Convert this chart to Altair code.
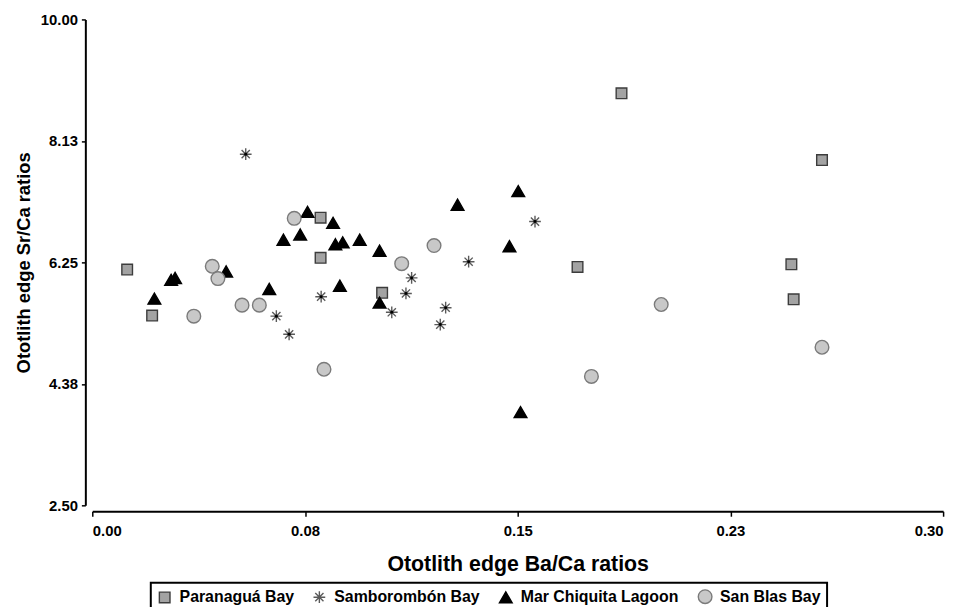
import json
import altair as alt
import pandas as pd

sites = ["Paranaguá Bay", "Samborombón Bay", "Mar Chiquita Lagoon", "San Blas Bay"]

para_ba = [0.0123, 0.0211, 0.0805, 0.0805, 0.1022, 0.1866, 0.1711, 0.2573, 0.2465, 0.2473]
para_sr = [6.14, 5.43, 6.94, 6.32, 5.78, 8.86, 6.18, 7.83, 6.22, 5.68]

samb_ba = [0.0541, 0.0807, 0.0649, 0.0694, 0.1056, 0.1126, 0.1106, 0.1246, 0.1227, 0.1327, 0.1561]
samb_sr = [7.92, 5.72, 5.42, 5.14, 5.48, 6.01, 5.77, 5.55, 5.29, 6.26, 6.88]

marc_ba = [0.0219, 0.0278, 0.0292, 0.0472, 0.0624, 0.0674, 0.0733, 0.0759, 0.0849, 0.0857,
           0.0883, 0.0943, 0.1013, 0.0873, 0.1013, 0.1288, 0.1502, 0.1471, 0.1510]
marc_sr = [5.69, 5.98, 6.01, 6.11, 5.84, 6.60, 6.68, 7.03, 6.86, 6.53,
           6.56, 6.60, 6.43, 5.89, 5.63, 7.14, 7.35, 6.50, 3.94]

sanb_ba = [0.0423, 0.0443, 0.0358, 0.0528, 0.0589, 0.0712, 0.0817, 0.1091, 0.1205, 0.1760, 0.2006, 0.2573]
sanb_sr = [6.19, 6.00, 5.42, 5.59, 5.59, 6.93, 4.60, 6.23, 6.51, 4.49, 5.60, 4.94]

x_tick_values = [0.0, 0.075, 0.15, 0.225, 0.30]
x_tick_labels = ["0.00", "0.08", "0.15", "0.23", "0.30"]
y_tick_values = [2.5, 4.375, 6.25, 8.125, 10.0]
y_tick_labels = ["2.50", "4.38", "6.25", "8.13", "10.00"]

rows = []
for site, xs, ys in zip(sites, [para_ba, samb_ba, marc_ba, sanb_ba], [para_sr, samb_sr, marc_sr, sanb_sr]):
    for xv, yv in zip(xs, ys):
        rows.append({"site": site, "ba": xv, "sr": yv})
df = pd.DataFrame(rows)

STAR = "M-1,0L1,0M0,-1L0,1M-0.7,-0.7L0.7,0.7M-0.7,0.7L0.7,-0.7"
shapes = ["square", STAR, "triangle-up", "circle"]
fills = ["#a3a3a3", "transparent", "#000000", "#c8c8c8"]
strokes = ["#3c3c3c", "#5a5a5a", "#000000", "#7a7a7a"]
sizes = [115, 190, 150, 70]

FONT = "Liberation Sans, Arial"

x_expr = f"{json.dumps(x_tick_labels)}[indexof({json.dumps(x_tick_values)}, datum.value)]"
y_expr = f"{json.dumps(y_tick_labels)}[indexof({json.dumps(y_tick_values)}, datum.value)]"

x_enc = alt.X(
    "ba:Q",
    scale=alt.Scale(domain=[0, 0.30], nice=False, zero=False),
    axis=alt.Axis(
        values=x_tick_values, labelExpr=x_expr, title="Ototlith edge Ba/Ca ratios",
        offset=6, grid=False, domainColor="black", domainWidth=2, tickColor="black",
        tickWidth=1.5, tickSize=5, labelPadding=7, labelFont=FONT, labelFontSize=15,
        labelFontWeight="bold", labelColor="black", titleFont=FONT, titleFontSize=21.5,
        titleFontWeight="bold", titleColor="black", titlePadding=16,
    ),
)
y_enc = alt.Y(
    "sr:Q",
    scale=alt.Scale(domain=[2.5, 10], nice=False, zero=False),
    axis=alt.Axis(
        values=y_tick_values, labelExpr=y_expr, title="Ototlith edge Sr/Ca ratios",
        offset=7, grid=False, domainColor="black", domainWidth=2, tickColor="black",
        tickWidth=1.5, tickSize=4, labelPadding=4, labelFont=FONT, labelFontSize=15,
        labelFontWeight="bold", labelColor="black", titleFont=FONT, titleFontSize=18.5,
        titleFontWeight="bold", titleColor="black", titlePadding=7,
    ),
)

points = alt.Chart(df).mark_point(opacity=1, strokeWidth=1.4).encode(
    x=x_enc,
    y=y_enc,
    shape=alt.Shape("site:N", scale=alt.Scale(domain=sites, range=shapes), title=None),
    fill=alt.Fill("site:N", scale=alt.Scale(domain=sites, range=fills), title=None),
    stroke=alt.Stroke("site:N", scale=alt.Scale(domain=sites, range=strokes), title=None),
    size=alt.Size("site:N", scale=alt.Scale(domain=sites, range=sizes), title=None),
)

dots = alt.Chart(df).transform_filter(alt.datum.site == "Samborombón Bay").mark_point(
    shape="circle", filled=True, size=9, color="black", opacity=1
).encode(x="ba:Q", y="sr:Q")

chart = alt.layer(points, dots).properties(
    width=858, height=490,
    autosize=alt.AutoSizeParams(type="none"),
    padding={"left": 85, "top": 9, "right": 12, "bottom": 100},
).configure_view(stroke=None).configure_legend(
    orient="none", legendX=59, legendY=568, direction="horizontal", columns=4,
    strokeColor="black", strokeWidth=2, padding=6, fillColor="white",
    labelFont=FONT, labelFontSize=16, labelFontWeight="bold", labelColor="black",
    labelLimit=400, columnPadding=16, labelOffset=7, symbolStrokeWidth=1.4, symbolOpacity=1,
)

chart.save("out.html", embed_options={"renderer": "svg", "actions": False})
